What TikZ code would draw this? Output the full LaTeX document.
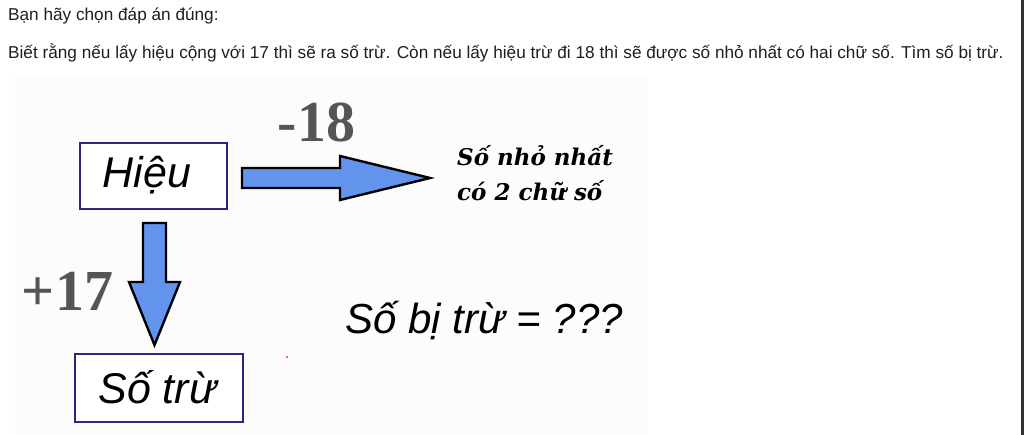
\documentclass[tikz,border=0pt]{standalone}
\usepackage{fontspec}
\setmainfont{Liberation Sans}
\newfontfamily\opfont{Liberation Serif}
\newfontfamily\notefont{DejaVu Serif}
\definecolor{boxblue}{RGB}{40,40,125}
\definecolor{arrowblue}{RGB}{98,148,238}
\definecolor{opgray}{RGB}{85,85,85}
\definecolor{qtextc}{RGB}{30,30,30}
\begin{document}
\begin{tikzpicture}[x=1pt,y=-1pt,
  qtext/.style={anchor=base west, inner sep=0, font=\fontsize{17.2}{20}\selectfont, text=qtextc},
  labelbox/.style={draw=boxblue, line width=1.8pt, fill=white, inner sep=0},
  labeltext/.style={anchor=base, inner sep=0, font=\itshape\fontsize{43}{48}\selectfont},
  blockarrow/.style={fill=arrowblue, draw=black, line width=2.4pt, line join=miter},
  oplabel/.style={anchor=base, inner sep=0, font=\opfont\bfseries\fontsize{58}{60}\selectfont, text=opgray},
  notetext/.style={anchor=base west, inner sep=0, font=\notefont\bfseries\itshape\fontsize{23}{26}\selectfont},
 ]
\useasboundingbox (0,0) rectangle (1024,435);
\fill[white] (0,0) rectangle (1024,435);
\fill[black!1] (15,75) rectangle (648,435);
\fill[black!80] (1021,0) rectangle (1024,435);

% question text
\node[qtext] (q1) at (8,21) {Bạn hãy chọn đáp án đúng:};
\node[qtext] (q2) at (8,59) {Biết rằng nếu lấy hiệu cộng với 17 thì sẽ ra số trừ. Còn nếu lấy hiệu trừ đi 18 thì sẽ được số nhỏ nhất có hai chữ số. Tìm số bị trừ.};

% boxes
\node[labelbox, minimum width=147pt, minimum height=66pt] (hieu) at (153.5,176) {};
\node[labeltext] (hieuT) at (147,188) {Hiệu};
\node[labelbox, minimum width=168pt, minimum height=68pt] (sotru) at (159,388) {};
\node[labeltext] (sotruT) at (157.5,403) {Số trừ};

% right block arrow
\coordinate (r1) at (242,168);
\coordinate (r2) at (340,168);
\coordinate (r3) at (340,156);
\coordinate (rtip) at (430,178);
\coordinate (r5) at (340,200);
\coordinate (r6) at (340,188);
\coordinate (r7) at (242,188);
\draw[blockarrow] (r1) -- (r2) -- (r3) -- (rtip) -- (r5) -- (r6) -- (r7) -- cycle;

% down block arrow
\coordinate (d1) at (143,223);
\coordinate (d2) at (166,223);
\coordinate (d3) at (166,282);
\coordinate (d4) at (180,282);
\coordinate (dtip) at (154.5,345);
\coordinate (d6) at (129,282);
\coordinate (d7) at (143,282);
\draw[blockarrow] (d1) -- (d2) -- (d3) -- (d4) -- (dtip) -- (d6) -- (d7) -- cycle;

% operation labels
\node[oplabel] (minus) at (316.5,142) {-18};
\node[oplabel] (plus) at (67.5,310) {+17};

% note
\node[notetext] (note1) at (457,165.5) {Số nhỏ nhất};
\node[notetext] (note2) at (457,201) {có 2 chữ số};

% question
\node[anchor=base west, inner sep=0, font=\itshape\fontsize{42}{46}\selectfont] (ask) at (345,333) {Số bị trừ = ???};

\fill[red!80] (287,357) circle (1.2);
\end{tikzpicture}
\end{document}
